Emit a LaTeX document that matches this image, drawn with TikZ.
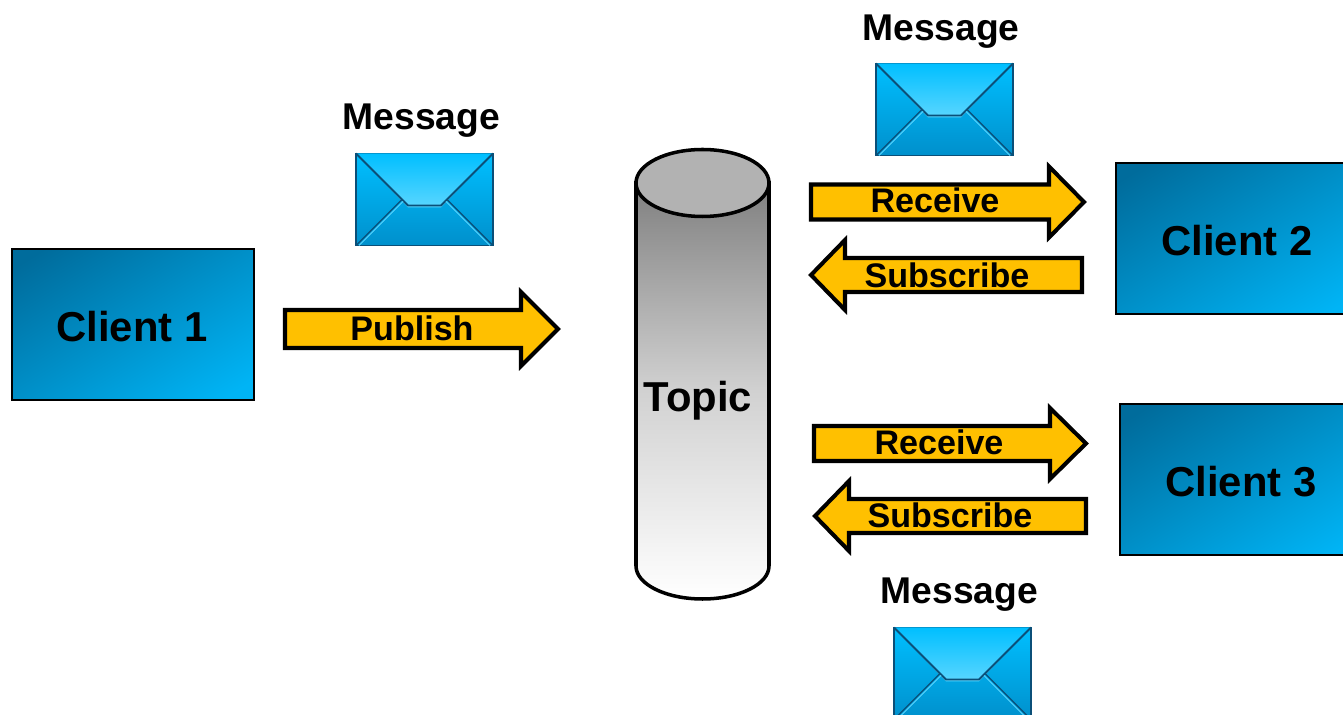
\documentclass[tikz,border=0pt]{standalone}
\usepackage{xcolor}
\usepackage{fontspec}
\setmainfont{Liberation Sans}

\definecolor{clientdark}{HTML}{006C9C}
\definecolor{clientlight}{HTML}{00B4F5}
\definecolor{arrowgold}{HTML}{FFC000}
\definecolor{envtop}{HTML}{00BFFF}
\definecolor{envbottom}{HTML}{0090CC}
\definecolor{envflap}{HTML}{5AD6FF}
\definecolor{envline}{HTML}{0B4F78}

\pgfdeclareverticalshading{clientshade}{100bp}{color(0bp)=(clientlight); color(20bp)=(clientlight); color(80bp)=(clientdark); color(100bp)=(clientdark)}

\tikzset{
  client/.style={draw=black, line width=0.7pt, minimum width=4.84cm, minimum height=3.02cm,
    shading=clientshade, shading angle=32},
  clientlabel/.style={font=\fontsize{23.8}{26}\selectfont\bfseries, inner sep=0pt},
  blockarrow/.style={draw=black, fill=arrowgold, line width=2.3pt, line join=miter},
  arrowlabel/.style={font=\fontsize{19.4}{22}\selectfont\bfseries, inner sep=0pt},
  msglabel/.style={font=\fontsize{21.2}{24}\selectfont\bfseries, inner sep=0pt},
  pics/envelope/.style={code={
    \shade[top color=envtop, middle color=envtop, bottom color=envbottom, draw=envline, line width=0.8pt] (0,0) rectangle (137,92);
    % solapa
    \shade[top color=envtop, bottom color=envflap] (0,0) -- (137,0) -- (85,54) -- (52,54) -- cycle;
    \draw[envline, line width=1.1pt] (0,0) -- (52,52) -- (85,52) -- (137,0);
    % pliegues
    \draw[envline, line width=0.7pt] (0,92) -- (46,46);
    \draw[envline, line width=0.7pt] (137,92) -- (91,46);
    \draw[envflap, line width=0.5pt] (3,92) -- (47,48);
    \draw[envflap, line width=0.5pt] (134,92) -- (90,48);
  }}
}

% flecha hacia la derecha: #1 = centro de la cola, #2 = cuerpo, #3 = medio cuerpo, #4 = punta
\newcommand{\arrowright}[4]{
  \draw[blockarrow] #1 ++(0,-#3) -- ++(#2,0) -- ++(0,-18) -- ++(#4,18+#3) -- ++(-#4,18+#3) -- ++(0,-18) -- ++(-#2,0) -- cycle;
}
% flecha hacia la izquierda: #1 = punta
\newcommand{\arrowleft}[1]{
  \draw[blockarrow] #1 -- ++(34,-35) -- ++(0,18) -- ++(237,0) -- ++(0,34) -- ++(-237,0) -- ++(0,18) -- cycle;
}

\begin{document}
\begin{tikzpicture}[x=0.02cm, y=-0.02cm]

    \clip (0,0) rectangle (1343,715);
    \fill[white] (0,0) rectangle (1343,715);

    % Clientes
    \node[client] (client1) at (133,324.5) {};
    \node[client] (client2) at (1237,238.5) {};
    \node[client] (client3) at (1241,479.5) {};
    \node[clientlabel] (label1) at (132,326.5) {Client 1};
    \node[clientlabel] (label2) at (1237,240.5) {Client 2};
    \node[clientlabel] (label3) at (1241,481.5) {Client 3};

    % Topic
    \shade[top color=black!50, bottom color=white, middle color=black!18, draw=black, line width=2pt]
      (636,183) -- (636,566) arc[start angle=180, end angle=360, x radius=66.5, y radius=-33] -- (769,183) -- cycle;
    \draw[fill=black!30, line width=2pt] (702.5,183) ellipse[x radius=66.5, y radius=33.5];
    \node[inner sep=0pt, font=\fontsize{23.8}{26}\selectfont\bfseries] (topic) at (698,401) {Topic};

    % Mensajes
    \pic at (356,153.5) {envelope};
    \pic at (876,63.5) {envelope};
    \pic at (894,627.5) {envelope};
    \node[msglabel] (msg1) at (421.5,121) {Message};
    \node[msglabel] (msg2) at (941,32) {Message};
    \node[msglabel] (msg3) at (959.5,595) {Message};

    % Flechas
    \arrowright{(285,329)}{236}{19}{37}
    \arrowright{(811,202)}{238}{17.5}{35}
    \arrowright{(814,443.5)}{236}{17.5}{36}
    \arrowleft{(811,275)}
    \arrowleft{(815,516)}

    %leyendas
    \node[arrowlabel] (publish) at (412,328) {Publish};
    \node[arrowlabel] (receive2) at (935,200) {Receive};
    \node[arrowlabel] (subscribe2) at (947,275) {Subscribe};
    \node[arrowlabel] (receive3) at (939,442) {Receive};
    \node[arrowlabel] (subscribe3) at (950,515) {Subscribe};

\end{tikzpicture}
\end{document}
